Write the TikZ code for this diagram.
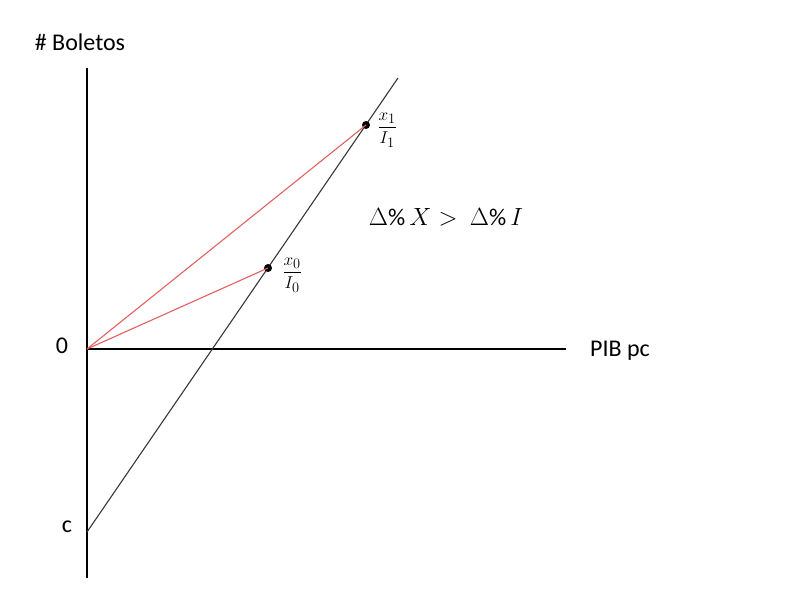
\documentclass[tikz,border=0pt]{standalone}
\usepackage{amsmath}
\usepackage{fontspec}
\setmainfont{Carlito}
\usepackage{xcolor}
\usepackage{tikz}
\usetikzlibrary{positioning, calc}

\definecolor{raycol}{RGB}{226,96,96}
\definecolor{linecol}{RGB}{55,55,55}

\tikzset{
  axis/.style={black, line width=1.7pt},
  demline/.style={linecol, line width=1.1pt},
  rayline/.style={raycol, line width=1.1pt},
  dotpt/.style={circle, fill=black, inner sep=0pt, minimum size=8pt},
  lbl/.style={font=\fontsize{24}{26}\selectfont, inner sep=1pt},
  fraclbl/.style={font=\fontsize{19}{21}\selectfont, inner sep=1pt}
}

\begin{document}
\begin{tikzpicture}[x=1pt, y=-1pt]
  \useasboundingbox (0,0) rectangle (787,595);
  % axes
  \coordinate (orig) at (87,349);
  \coordinate (ytop) at (87,68);
  \coordinate (ybot) at (87,578);
  \coordinate (xend) at (566,349);
  \draw[axis] (ytop) -- (ybot);
  \draw[axis] (orig) -- (xend);
  % line through c
  \coordinate (cpt) at (87,532);
  \coordinate (ltop) at (398,78);
  \draw[demline] (cpt) -- (ltop);
  % points and rays
  \node[dotpt] (p0) at (268,268) {};
  \node[dotpt] (p1) at (366,125) {};
  \draw[rayline] (orig) -- (p0.center);
  \draw[rayline] (orig) -- (p1.center);
  % labels
  \node[lbl] (ylab) at (80,42) {\# Boletos};
  \node[lbl] (zlab) at (62,346) {0};
  \node[lbl] (clab) at (67,527) {c};
  \node[lbl] (xlab) at (620,351) {PIB pc};
  \node[fraclbl, right=6pt of p1, yshift=-5pt] (f1) {$\dfrac{x_1}{I_1}$};
  \node[fraclbl, right=9pt of p0, yshift=-7pt] (f0) {$\dfrac{x_0}{I_0}$};
  \node[lbl] (rel) at (446,217) {$\Delta\%\,X >\ \Delta\%\,I$};
\end{tikzpicture}
\end{document}
